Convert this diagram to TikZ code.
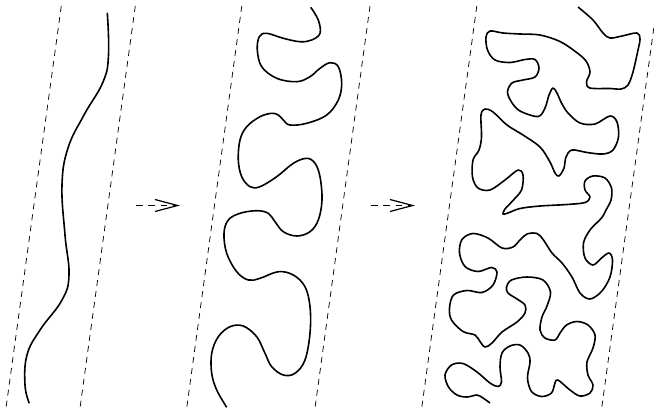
\documentclass[tikz,border=0pt]{standalone}
\usepackage{tikz}
\usetikzlibrary{arrows.meta}

\begin{document}
\begin{tikzpicture}[x=0.75pt, y=-0.75pt]
\tikzstyle{guide}=[densely dashed, dash pattern=on 4.5pt off 3.8pt, line width=0.55pt]
\tikzstyle{chain}=[line width=1.2pt, line join=round]
\tikzstyle{step_arrow}=[dash pattern=on 5pt off 4.2pt, line width=0.75pt, -{Straight Barb[length=17pt, width=9pt, line width=0.9pt]}]

\clip (0,0) rectangle (654,412);

%% Strips
  \draw[guide] (61.3,6) -- (6,408);
  \draw[guide] (135.3,6) -- (80,408);
  \draw[guide] (241.8,6) -- (186.7,408);
  \draw[guide] (370,6) -- (315,408);
  \draw[guide] (476.8,6) -- (421.7,408);
  \draw[guide] (656.8,6) -- (601.7,408);

%% Arrows
  \coordinate (a1) at (136,205.5);
  \coordinate (b1) at (180,205.5);
  \coordinate (a2) at (371,205.5);
  \coordinate (b2) at (415,205.5);
  \draw[step_arrow] (a1) -- (b1);
  \draw[step_arrow] (a2) -- (b2);

%% Stretched chain
  \draw[chain] plot[smooth, tension=0.7] coordinates {
    (107.3,12.7) (108.5,55) (103,82) (84,115) (68,148) (62,185)
    (65,235) (69,275) (62,300) (40,330) (27,355)
    (25,385) (29.3,403.3)};

%% Folded chain
  \draw[chain] plot[smooth, tension=0.6] coordinates {
    (310.7,7.3) (318.3,20) (320,33.3) (311.7,40) (300,41.7) (283.3,38.3)
    (266.7,33.3) (259.3,36.7) (257.3,50) (261.7,66.7) (276.7,78.3) (296.7,81.7)
    (310,76.7) (320,68.3) (330,62.7) (338.3,66.7) (341.7,83.3) (338.3,100)
    (326.7,115) (306.7,123.3) (290,125) (283.3,120) (278.3,115) (271.7,113.3)
    (260,116.7) (246.7,126.7) (240,140) (238.3,160) (241.7,176.7) (250,186.7)
    (260,186.7) (276.7,176.7) (293.3,163.3) (306.7,158.3) (315,163.3) (320,176.7)
    (322,200) (318.3,220) (310,231.7) (296.7,236) (283.3,231.7) (275,221.7)
    (268.3,213.3) (256.7,210.7) (240,213.3) (228.3,220) (224,233.3) (226.7,253.3)
    (236.7,271.7) (248.3,280) (260,278.3) (278.3,271.7) (293.3,275) (305,286.7)
    (310,306.7) (310,333.3) (305,360) (295,373.3) (283.3,375) (271.7,366.7)
    (265,353.3) (256.7,336.7) (243.3,326) (230,326.7) (218.3,336.7) (211.7,353.3)
    (211.7,373.3) (216.7,390) (226.7,407.3)};

%% Crumpled chain
  \draw[chain] plot[smooth, tension=0.55] coordinates {
    (578,7) (593,20) (603,33) (610,38) (622,36) (637,33) (640,39) (638,50)
    (633,72) (628,85) (621,89) (610,88.5) (590,88) (586.5,82) (590,72) (586,61)
    (576,52) (560,41.5) (540,35) (520,34) (503,33) (490,31) (486,37) (487.5,50)
    (495,60) (510,62.5) (525,59.5) (535,59.5) (539,68) (535,77) (523,80) (512,83)
    (507.5,92) (511.5,102) (520,111) (538,116.5) (545,108) (549,95) (553,88)
    (557,93) (561.5,103) (568,113) (580,123) (595,124) (610,116) (617,122)
    (618.5,137) (613,150) (603,154) (587,152.5) (572,150) (566,157) (564,168)
    (559,176) (555,173) (550,162) (540,147) (523,135) (507,125) (493,112)
    (485,109) (481,115) (481.5,137) (479,150) (473,160) (472.5,177) (478,188)
    (490,190) (505,180) (518,170) (523,175) (521.5,190) (512,201.5) (505,209)
    (503,214) (508,213) (520,208.5) (540,206) (567,204.5) (585,202.5) (590,197)
    (585,190) (585,181) (593,176) (605,178) (611.5,188) (611,200) (606,210)
    (601.5,218) (590,230) (583.5,243) (585,258) (593,265) (601.5,258) (609,253)
    (612.5,260) (610,277) (601.5,291.5) (590,299) (580,293) (572,277) (562,263)
    (552,253) (543.5,240) (537,233.5) (527,234) (520,240) (513,247) (502,248)
    (488,238) (473,233.5) (462,239.5) (459.5,253) (465,266.5) (478,271.5)
    (491.5,267.5) (497,272) (493,285) (482,292.5) (467,290.5) (453.5,295)
    (449.5,308) (451.5,320) (463,331.5) (475,335) (480,341.5) (485,347)
    (492,343) (502,332) (517,322) (525,313) (525,305) (517,299) (508,293)
    (506.5,287) (511.5,280) (527,277) (543,280) (550.5,292) (547,306) (542,317)
    (540,330) (545,338) (555,340) (560,333) (566.5,325) (577,321.5) (588,325)
    (595,335) (593,348) (587,362) (588,375) (593,385) (590,393) (580,396)
    (570,390) (558,380) (555,383) (551.5,393) (541.5,396.5) (531.5,391.5)
    (527.5,378) (530,362) (528,353) (520,345) (510,346) (502,353) (500,367)
    (501.5,382) (498,386.5) (490,383) (477,372) (463,363.5) (451.5,365)
    (445,375) (448.5,387) (457,395) (467,397) (477,395) (483,398) (490,403)};
\end{tikzpicture}
\end{document}
